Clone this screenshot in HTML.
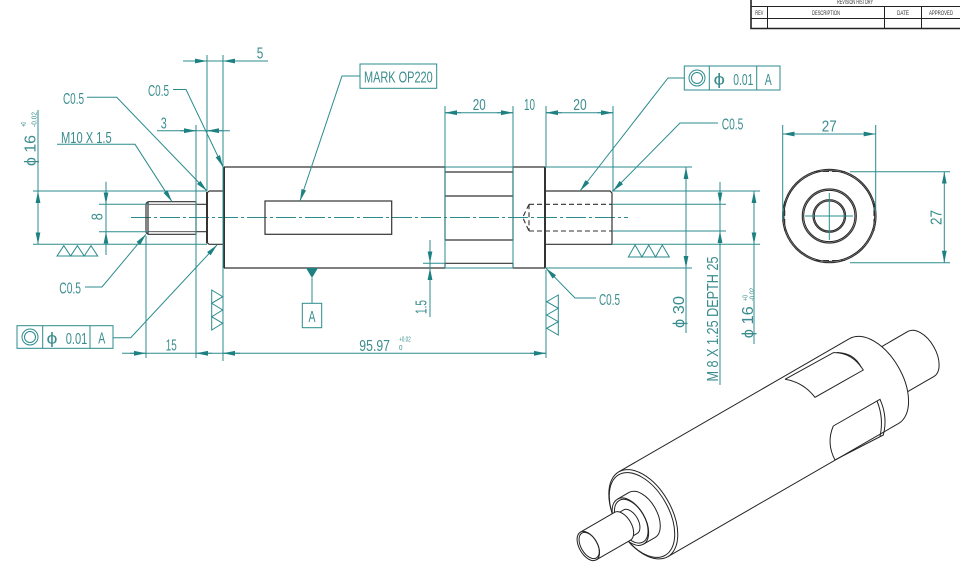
<!DOCTYPE html>
<html><head><meta charset="utf-8"><style>
html,body{margin:0;padding:0;background:#fff;}
svg{display:block}
.t{stroke:#2b8b8d;stroke-width:1;fill:none}
.p{stroke:#333;stroke-width:1.2;fill:none}
.k{stroke:#333;stroke-width:2;fill:none}
.n{stroke:#444;stroke-width:0.8;fill:none}
.i{stroke:#222;stroke-width:1;fill:none}
.d{stroke:#333;stroke-width:1.1;fill:none;stroke-dasharray:5 3}
.c{stroke:#2b8b8d;stroke-width:1;fill:none;stroke-dasharray:20 3 3 3}
text{fill:#3a8c8e;font-family:"Liberation Sans Narrow","Liberation Sans",sans-serif;font-size:16px}
.s{font-size:7px}
.r{fill:#333;font-size:6px}
</style></head><body>
<svg width="960" height="580" viewBox="0 0 960 580" xmlns="http://www.w3.org/2000/svg">
<defs><marker id="a" markerUnits="userSpaceOnUse" markerWidth="13" markerHeight="6" refX="12" refY="3" orient="auto-start-reverse" viewBox="0 0 13 6"><path d="M0,0.6 L12,3 L0,5.4 z" fill="#1d8081"/></marker></defs>
<rect width="960" height="580" fill="#fff"/>

<!-- Revision table -->
<path class="i" d="M751,6.5H960 M751,18.5H960 M767.5,6.5V28.5 M884.5,6.5V28.5 M921.5,6.5V28.5"/>
<path class="i" style="stroke-width:1.6" d="M751,0V29.3 M751,28.5H960"/>
<text class="r" x="855" y="4" text-anchor="middle" textLength="36" lengthAdjust="spacingAndGlyphs">REVISION HISTORY</text>
<text class="r" x="759.3" y="15" text-anchor="middle" textLength="8" lengthAdjust="spacingAndGlyphs">REV</text>
<text class="r" x="826" y="15" text-anchor="middle" textLength="28" lengthAdjust="spacingAndGlyphs">DESCRIPTION</text>
<text class="r" x="903" y="15" text-anchor="middle" textLength="12" lengthAdjust="spacingAndGlyphs">DATE</text>
<text class="r" x="941" y="15" text-anchor="middle" textLength="24" lengthAdjust="spacingAndGlyphs">APPROVED</text>

<!-- centerline -->
<path class="c" d="M131,217.5H628"/>

<!-- Part lines: side view -->
<path class="p" d="M148,201.7H196 M148,234.3H196 M146,203.5V232.5 M146,203.5L148,201.7 M146,232.5L148,234.3 M148,201.7V234.3 M196,201.7V234.3"/>
<path class="n" d="M148,204.3H196 M148,231.7H196"/>
<path class="p" d="M196,204.3H207 M196,231.7H207"/>
<path class="p" d="M209,191H223 M209,244.3H223 M207,193L209,191 M207,242.3L209,244.3"/>
<path class="k" d="M207,192V243.3"/>
<path class="k" d="M224,167V268"/>
<path class="p" d="M224,167H445 M513,167H545 M224,268H445 M513,268H545"/>
<path class="p" d="M445,172H513 M445,196H513 M445,240H513 M445,167V240 M513,167V240 M445,263.3H513 M445,263.3V268 M513,263.3V268"/>
<path class="k" d="M545,167V268"/>
<path class="p" d="M546,191H610L612,193V244.3 M546,244.3H612"/>
<path class="d" d="M529,204.3H612 M529,231H612 M529,204.3V231 M529,204.3L522.7,217.5L529,231"/>
<rect class="p" x="265" y="201" width="126.7" height="33.3"/>

<!-- Teal dimension lines left -->
<path class="t" d="M33,191H207 M33,244.3H207 M38,110V244.3 M99,204.3H148 M99,231.7H148 M106,181.7V255 M157,130.7H230 M183,61H268 M146,236V358 M196,125V358 M207,55V191 M223,55V361 M122,353.3H546 M546,270V358"/>
<path class="t" marker-end="url(#a)" d="M38,205V191"/>
<path class="t" marker-end="url(#a)" d="M38,230V244.3"/>
<path class="t" marker-end="url(#a)" d="M106,190V204.3"/>
<path class="t" marker-end="url(#a)" d="M106,246V231.7"/>
<path class="t" marker-end="url(#a)" d="M180,130.7H196"/>
<path class="t" marker-end="url(#a)" d="M223,130.7H207"/>
<path class="t" marker-end="url(#a)" d="M191,61H207"/>
<path class="t" marker-end="url(#a)" d="M239,61H223"/>
<path class="t" marker-end="url(#a)" d="M130,353.3H146"/>
<path class="t" marker-end="url(#a)" d="M212,353.3H196"/>
<path class="t" marker-end="url(#a)" d="M240,353.3H223"/>
<path class="t" marker-end="url(#a)" d="M530,353.3H546"/>

<!-- Teal dimension lines right -->
<path class="t" d="M445,106V268 M513,106V268 M546,106V167 M613,106V191 M445,112.7H513 M546,112.7H613 M445,167H513 M445,268H513"/>
<path class="t" marker-end="url(#a)" d="M461,112.7H445"/>
<path class="t" marker-end="url(#a)" d="M497,112.7H513"/>
<path class="t" marker-end="url(#a)" d="M562,112.7H546"/>
<path class="t" marker-end="url(#a)" d="M597,112.7H613"/>
<path class="t" d="M430,240V317 M423,263.3H445"/>
<path class="t" marker-end="url(#a)" d="M430,250V263.3"/>
<path class="t" marker-end="url(#a)" d="M430,281V268"/>
<path class="t" d="M686,167V333 M545,167H692 M545,268H692"/>
<path class="t" marker-end="url(#a)" d="M686,181V167"/>
<path class="t" marker-end="url(#a)" d="M686,254V268"/>
<path class="t" d="M720,182V385 M612,204.3H726 M612,231H726"/>
<path class="t" marker-end="url(#a)" d="M720,190V204.3"/>
<path class="t" marker-end="url(#a)" d="M720,245V231"/>
<path class="t" d="M754,191V344 M612,191H760 M612,244.3H760"/>
<path class="t" marker-end="url(#a)" d="M754,205V191"/>
<path class="t" marker-end="url(#a)" d="M754,230V244.3"/>

<!-- Leaders -->
<path class="t" marker-end="url(#a)" d="M87,97.3H116.7L207,191"/>
<path class="t" marker-end="url(#a)" d="M173,89.5H186L223,167"/>
<path class="t" marker-end="url(#a)" d="M57,144.3H135L172,201.7"/>
<path class="t" marker-end="url(#a)" d="M85,287H102L146,234.3"/>
<path class="t" marker-end="url(#a)" d="M113,337.7H130.7L217,245"/>
<path class="t" marker-end="url(#a)" d="M360,76H342L300,201"/>
<path class="t" marker-end="url(#a)" d="M684,78H668L580,191"/>
<path class="t" marker-end="url(#a)" d="M718,123H680L613,191"/>
<path class="t" marker-end="url(#a)" d="M596,298H575L546,268.3"/>

<!-- Datum A -->
<polygon points="306,268 318,268 312,278" fill="#1d8081"/>
<path class="t" d="M312,278V303.3"/>
<rect class="t" x="302.3" y="303.3" width="19.4" height="24.4"/>
<text x="312" y="322" text-anchor="middle" textLength="7" lengthAdjust="spacingAndGlyphs">A</text>

<!-- MARK box -->
<rect class="t" x="360" y="64" width="76.7" height="24.3"/>
<text x="364" y="82.7" textLength="68.7" lengthAdjust="spacingAndGlyphs">MARK OP220</text>

<!-- Concentricity boxes -->
<rect class="t" x="17" y="325.7" width="96" height="22.6"/>
<path class="t" d="M42.7,325.7V348.3 M90,325.7V348.3"/>
<circle class="t" cx="30" cy="337" r="8"/><circle class="t" cx="30" cy="337" r="5.5"/>
<text x="46.5" y="343.3" textLength="11" lengthAdjust="spacingAndGlyphs">ϕ</text>
<text x="65.7" y="344" textLength="21.6" lengthAdjust="spacingAndGlyphs">0.01</text>
<text x="101.7" y="343.3" text-anchor="middle" textLength="7" lengthAdjust="spacingAndGlyphs">A</text>

<rect class="t" x="684.3" y="66" width="95.7" height="24"/>
<path class="t" d="M709.3,66V90 M756.7,66V90"/>
<circle class="t" cx="697" cy="78" r="8"/><circle class="t" cx="697" cy="78" r="5.5"/>
<text x="713.5" y="84.5" textLength="11.5" lengthAdjust="spacingAndGlyphs">ϕ</text>
<text x="733.3" y="85" textLength="20" lengthAdjust="spacingAndGlyphs">0.01</text>
<text x="768.3" y="85" text-anchor="middle" textLength="7" lengthAdjust="spacingAndGlyphs">A</text>

<!-- Surface finish symbols -->
<path class="t" d="M57,256L63.8,245.7L70.6,256L77.4,245.7L84.2,256L91,245.7L97.7,256Z"/>
<path class="t" d="M628.3,257L635.1,245L641.9,257L648.7,245L655.5,257L662.3,245L669.3,257Z"/>
<path class="t" d="M211.7,290L222.7,296.7L211.7,303.3L222.7,310L211.7,316.7L222.7,323.3L211.7,330Z"/>
<path class="t" d="M558.3,295L546.7,301.7L558.3,308.3L546.7,315L558.3,321.7L546.7,328.3L558.3,335Z"/>

<!-- Texts -->
<text x="63" y="104" textLength="21" lengthAdjust="spacingAndGlyphs">C0.5</text>
<text x="148" y="96" textLength="21" lengthAdjust="spacingAndGlyphs">C0.5</text>
<text x="160.7" y="128.3" textLength="6" lengthAdjust="spacingAndGlyphs">3</text>
<text x="256.7" y="58.3" textLength="6.6" lengthAdjust="spacingAndGlyphs">5</text>
<text x="61" y="143" textLength="50.7" lengthAdjust="spacingAndGlyphs">M10 X 1.5</text>
<text x="472.7" y="110" textLength="13" lengthAdjust="spacingAndGlyphs">20</text>
<text x="524" y="110" textLength="11" lengthAdjust="spacingAndGlyphs">10</text>
<text x="573.3" y="110" textLength="13.4" lengthAdjust="spacingAndGlyphs">20</text>
<text x="59.3" y="293.3" textLength="21.7" lengthAdjust="spacingAndGlyphs">C0.5</text>
<text x="165.7" y="350.7" textLength="11" lengthAdjust="spacingAndGlyphs">15</text>
<text x="359.3" y="351" textLength="30.7" lengthAdjust="spacingAndGlyphs">95.97</text>
<text class="s" x="399.3" y="341.7" textLength="11.4" lengthAdjust="spacingAndGlyphs">+0.02</text>
<text class="s" x="399" y="350" textLength="3.5" lengthAdjust="spacingAndGlyphs">0</text>
<text x="599" y="305" textLength="21" lengthAdjust="spacingAndGlyphs">C0.5</text>
<text x="721.7" y="129.3" textLength="21.6" lengthAdjust="spacingAndGlyphs">C0.5</text>

<text transform="translate(102.5,216.7) rotate(-90)" text-anchor="middle" textLength="7" lengthAdjust="spacingAndGlyphs">8</text>
<text transform="translate(426.5,307) rotate(-90)" text-anchor="middle" textLength="14" lengthAdjust="spacingAndGlyphs">1.5</text>
<text transform="translate(684,312) rotate(-90)" text-anchor="middle" textLength="32" lengthAdjust="spacingAndGlyphs">ϕ 30</text>
<text transform="translate(718,319) rotate(-90)" text-anchor="middle" textLength="125" lengthAdjust="spacingAndGlyphs">M 8 X 1.25 DEPTH 25</text>
<text transform="translate(753,338.3) rotate(-90)" textLength="32" lengthAdjust="spacingAndGlyphs">ϕ 16</text>
<text class="s" transform="translate(747.5,301) rotate(-90)" textLength="6" lengthAdjust="spacingAndGlyphs">+0</text>
<text class="s" transform="translate(754.5,301) rotate(-90)" textLength="13" lengthAdjust="spacingAndGlyphs">-0.02</text>
<text transform="translate(35.5,166) rotate(-90)" textLength="31" lengthAdjust="spacingAndGlyphs">ϕ 16</text>
<text class="s" transform="translate(26,127) rotate(-90)" textLength="5" lengthAdjust="spacingAndGlyphs">+0</text>
<text class="s" transform="translate(36.5,127) rotate(-90)" textLength="15" lengthAdjust="spacingAndGlyphs">-0.02</text>

<!-- End view -->
<circle class="p" cx="829.3" cy="216" r="46.7"/>
<circle class="i" cx="829.3" cy="216" r="45.4"/>
<path class="d" d="M814,171.5H845 M814,260.5H845 M784.7,201V231 M874,201V231" style="stroke-dasharray:6 3"/>
<circle class="p" cx="829.3" cy="216" r="27"/>
<circle class="i" cx="829.3" cy="216" r="25.6"/>
<circle class="p" cx="829.3" cy="216" r="16.3"/>
<circle class="i" cx="829.3" cy="216" r="15"/>
<path class="t" d="M805,216H853 M829.3,193V240"/>
<path class="t" d="M782.7,125V220 M875.7,125V212"/>
<path class="t" marker-start="url(#a)" marker-end="url(#a)" d="M782.7,134H875.7"/>
<text x="821.7" y="131.7" textLength="15" lengthAdjust="spacingAndGlyphs">27</text>
<path class="t" d="M850,171.7H950 M850,262.7H950"/>
<path class="t" marker-start="url(#a)" marker-end="url(#a)" d="M944.3,171.7V262.7"/>
<text transform="translate(941.5,217.5) rotate(-90)" text-anchor="middle" textLength="15" lengthAdjust="spacingAndGlyphs">27</text>

<!-- Isometric view -->
<g transform="translate(642,515) rotate(-30)" class="i">
  <path d="M1.5,-49H268 M1.5,49H268"/>
  <ellipse cx="1.5" cy="0" rx="28" ry="49" fill="#fff"/>
  <ellipse cx="0" cy="0" rx="26.6" ry="46.5"/>
  <path d="M268,-49A28,49 0 0 1 268,49"/>
  <path d="M291.7,-26H322 M291.7,26H322 M322,-26A14.8,26 0 0 1 322,26"/>
  <!-- collar -->
  <path fill="#fff" stroke="none" d="M-13.4,-26H0A14.8,26 0 0 1 0,26H-13.4A14.8,26 0 0 1 -13.4,-26Z"/>
  <path d="M-13.4,-26H0 M-13.4,26H0 M0,-26A14.8,26 0 0 1 0,26"/>
  <ellipse cx="-13.4" cy="0" rx="14.8" ry="26"/>
  <ellipse cx="-12.4" cy="0" rx="13.6" ry="24"/>
  <!-- neck -->
  <path fill="#fff" stroke="none" d="M-17.8,-13.6H-13.4A7.75,13.6 0 0 1 -13.4,13.6H-17.8Z"/>
  <path d="M-17.8,-13.6H-13.4 M-17.8,13.6H-13.4 M-13.4,-13.6A7.75,13.6 0 0 1 -13.4,13.6"/>
  <!-- thread -->
  <path fill="#fff" stroke="none" d="M-62,-16H-22.6A9.1,16 0 0 1 -22.6,16H-62A9.1,16 0 0 1 -62,-16Z"/>
  <path d="M-62,-16H-22.6 M-62,16H-22.6 M-22.6,-16A9.1,16 0 0 1 -22.6,16"/>
  <ellipse cx="-62" cy="0" rx="9.1" ry="16"/>
  <ellipse cx="-61" cy="0" rx="8.2" ry="14.4"/>
</g>
<!-- flats -->
<path class="i" d="M785,379.3L833.3,352.7Q851.7,352 863.3,370L815,397.3Q803,382 785,379.3"/>
<path class="i" d="M837,352.5Q854,353 861,367"/>
<path class="i" d="M833.3,426L880,399.3Q888,417 883.3,435L835,460Q826,443 833.3,426"/>
<path class="i" d="M877,401Q884,418 880,436.5"/>
</svg>
</body></html>
